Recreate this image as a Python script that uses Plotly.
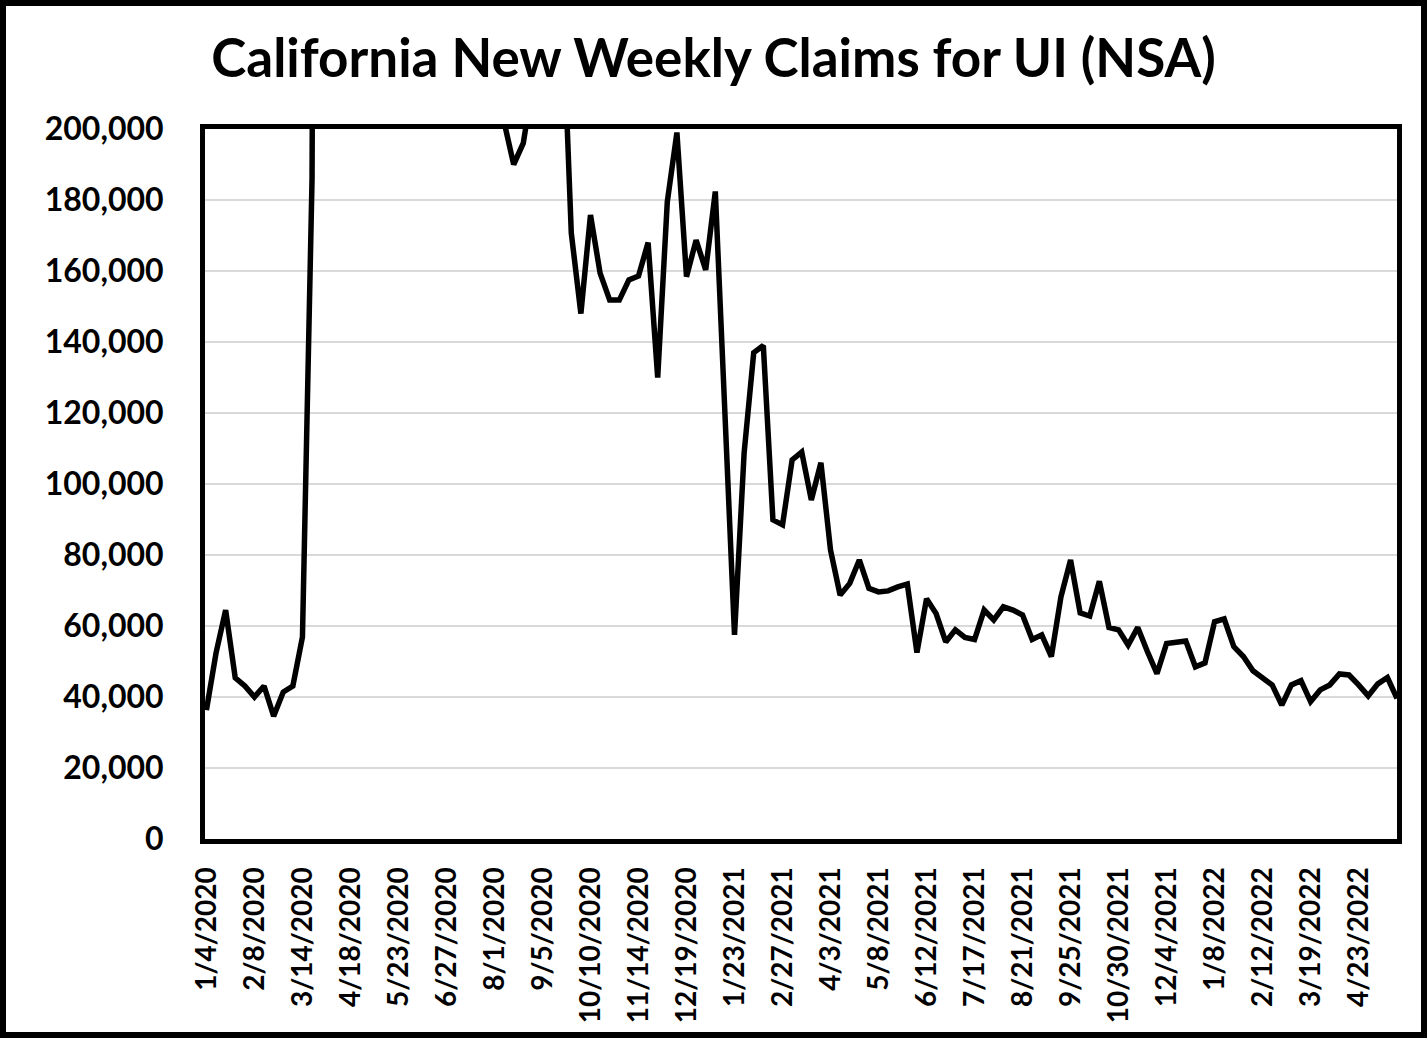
import pandas as pd
import plotly.graph_objects as go

# Weekly dates (week ending), 1/4/2020 .. 5/21/2022
weeks = pd.date_range("2020-01-04", periods=125, freq="7D")
week_labels = [f"{d.month}/{d.day}/{d.year}" for d in weeks]

# New weekly UI claims, California, NSA (values above 200,000 run off the chart)
claims = [
    36300, 52400, 64500, 45400, 43100, 40000, 43100, 34600, 41400, 43100,
    56900, 186000, 879000, 925000, 661000, 535000, 328000, 318000, 246000, 254000,
    220000, 259000, 240000, 283000, 289000, 259000, 267000, 266000, 295000, 240000,
    237000, 202000, 190000, 196000, 213000, 239000, 245000, 241000, 170700, 148000,
    175800, 159400, 151800, 151800, 157500, 158600, 168000, 130000, 179500, 199000,
    158400, 168700, 160300, 182400, 120000, 57500, 108700, 137000, 139000, 89900,
    88500, 106800, 109000, 95500, 106000, 81400, 68700, 72000, 78600, 70600,
    69600, 69900, 71000, 71800, 52500, 67700, 63500, 55500, 58900, 56800,
    56200, 64500, 61700, 65400, 64500, 63100, 56200, 57500, 51400, 68200,
    78600, 63700, 62800, 72600, 59600, 58900, 54600, 59600, 52800, 46600,
    55100, 55500, 55800, 48500, 49600, 61200, 62000, 54200, 51400, 47400,
    45500, 43400, 37700, 43400, 44600, 38700, 42000, 43400, 46500, 46200,
    43400, 40300, 43700, 45500, 39600,
]

tick_labels = week_labels[::5]
y_ticks = [0, 20000, 40000, 60000, 80000, 100000, 120000, 140000, 160000, 180000, 200000]

title_text = "California New Weekly Claims for UI (NSA)"

FONT = "Lato"

fig = go.Figure()
fig.add_trace(go.Scatter(
    x=week_labels, y=claims, mode="lines",
    line=dict(color="black", width=5.5),
    showlegend=False,
))

W, H = 1427, 1038
L, R, T, B = 205, 1397, 129, 839

fig.update_layout(
    width=W, height=H,
    margin=dict(l=L, r=W - R, t=T, b=H - B, autoexpand=False),
    paper_bgcolor="white", plot_bgcolor="white",
    title=dict(text=title_text, x=0.5, xref="container", xanchor="center",
               y=1 - 58 / H, yanchor="middle", yref="container",
               font=dict(family=FONT, size=53, color="black", weight="bold")),
    font=dict(family=FONT, color="black"),
)

fig.update_xaxes(
    type="category", range=[-0.15, len(claims) - 1],
    tickmode="array", tickvals=tick_labels, ticktext=tick_labels,
    tickangle=-90, ticks="", showgrid=False,
    tickfont=dict(family=FONT, size=28, color="black", weight="bold"),
    showline=True, linecolor="black", linewidth=5, mirror=True,
    ticklabelstandoff=12,
)
fig.update_yaxes(
    range=[0, 200000], tickmode="array", tickvals=y_ticks,
    tickformat=",", showgrid=True, gridcolor="#d9d9d9", gridwidth=2,
    tickfont=dict(family=FONT, size=32, color="black", weight="bold"),
    showline=True, linecolor="black", linewidth=5, mirror=True,
    zeroline=False, ticks="", ticklabelstandoff=30,
)

# outer frame around the whole picture
def px_to_paper_x(px):
    return (px - L) / (R - L)

def px_to_paper_y(py):
    return (B - py) / (B - T)

fig.add_shape(type="rect", xref="paper", yref="paper",
              x0=px_to_paper_x(3), x1=px_to_paper_x(W - 3),
              y0=px_to_paper_y(H - 3), y1=px_to_paper_y(3),
              line=dict(color="black", width=6), fillcolor="rgba(0,0,0,0)",
              layer="above")

fig.write_html("out.html")
